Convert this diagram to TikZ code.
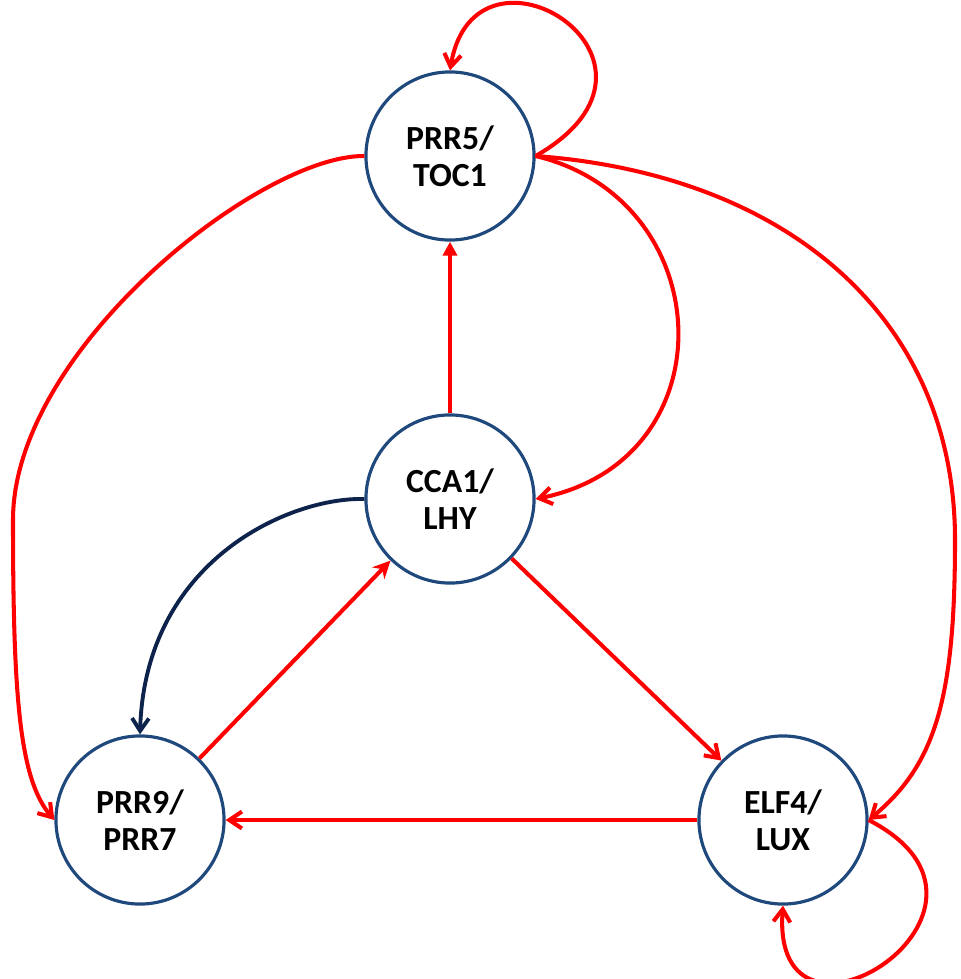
\documentclass[tikz,border=0pt]{standalone}
\usepackage{fontspec}
\setmainfont{Carlito}
\usetikzlibrary{arrows.meta}

\definecolor{ringblue}{RGB}{31,73,125}
\definecolor{navy}{RGB}{14,35,75}

\begin{document}
\begin{tikzpicture}[x=0.01cm, y=-0.01cm,
    gene/.style={circle, draw=ringblue, line width=0.9pt, fill=white,
        minimum size=1.68cm, inner sep=0pt, align=center,
        font=\bfseries\fontsize{9.6}{10.6}\selectfont},
    redarrow/.style={draw=red, line width=1.15pt,
        -{Straight Barb[length=3.6pt,width=4.8pt]}},
    bluearrow/.style={draw=navy, line width=1.1pt,
        -{Straight Barb[length=3.6pt,width=4.8pt]}}]
    \useasboundingbox (0,0) rectangle (961,979);

    % The four clock genes
    \node[gene] (toc) at (450,156) {PRR5/\\TOC1};
    \node[gene] (cca) at (450,499) {CCA1/\\LHY};
    \node[gene] (pr9) at (140,820) {PRR9/\\PRR7};
    \node[gene] (elf) at (783,820) {ELF4/\\LUX};

    % bends of the two outer arcs
    \coordinate (lbend) at (13,520);
    \coordinate (rbend) at (955,540);

    % Self loops
    \draw[redarrow] (toc.east) .. controls +(166,-95) and +(25,-150) .. (toc.north);
    \draw[redarrow] (elf.east) .. controls +(173,89) and +(-13,175) .. (elf.south);

    % Arcs out of PRR5/TOC1
    \draw[redarrow] (toc.east) .. controls (720,200) and (730,460) .. (cca.east);
    \draw[redarrow] (toc.west) .. controls (260,155) and (13,350) .. (lbend)
        .. controls (13,700) and (20,780) .. (pr9.west);
    \draw[redarrow] (toc.east) .. controls (790,175) and (955,320) .. (rbend)
        .. controls (955,700) and (935,765) .. (elf.east);

    % Straight links
    \draw[redarrow, -{Triangle[length=4pt,width=4pt]}] (cca) -- (toc);
    \draw[redarrow] (cca) -- (elf);
    \draw[redarrow] (elf) -- (pr9);
    \draw[redarrow, -{Stealth[length=5pt,width=4.8pt]}] (pr9) -- (cca);
    \draw[bluearrow] (cca.west) .. controls (290,497) and (145,560) .. (pr9.north);
\end{tikzpicture}
\end{document}
